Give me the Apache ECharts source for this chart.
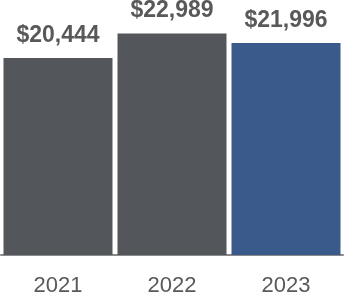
<!DOCTYPE html>
<html><head><meta charset="utf-8">
<script src="https://cdn.jsdelivr.net/npm/echarts@6/dist/echarts.min.js"></script>
<style>html,body{margin:0;padding:0;background:#fff}#c{width:344px;height:300px}</style>
</head><body><div id="c"></div>
<script>
const categories = ['2021', '2022', '2023'];
const values = [20444, 22989, 21996];
const barColors = ['#53565b', '#53565b', '#3a5a8b'];

const chart = echarts.init(document.getElementById('c'), null, {renderer: 'canvas'});
chart.setOption({
  animation: false,
  grid: {left: 1, right: 1, top: 14, bottom: 45, containLabel: false},
  xAxis: {
    type: 'category', data: categories,
    axisLine: {show: true, lineStyle: {color: '#8a8a8a', width: 2}},
    axisTick: {show: false},
    axisLabel: {color: '#595959', fontSize: 22, fontFamily: 'Liberation Sans, Arial, sans-serif', margin: 20}
  },
  yAxis: {type: 'value', min: 0, max: 25000, show: false, splitLine: {show: false}},
  series: [{
    type: 'bar', barWidth: 109,
    data: values.map((v, i) => ({value: v, itemStyle: {color: barColors[i]}})),
    label: {
      show: true, position: 'top', distance: 11,
      color: '#595959', fontSize: 23, fontWeight: 'bold',
      fontFamily: 'Liberation Sans, Arial, sans-serif',
      formatter: p => '$' + p.value.toLocaleString('en-US')
    }
  }]
});
</script></body></html>
